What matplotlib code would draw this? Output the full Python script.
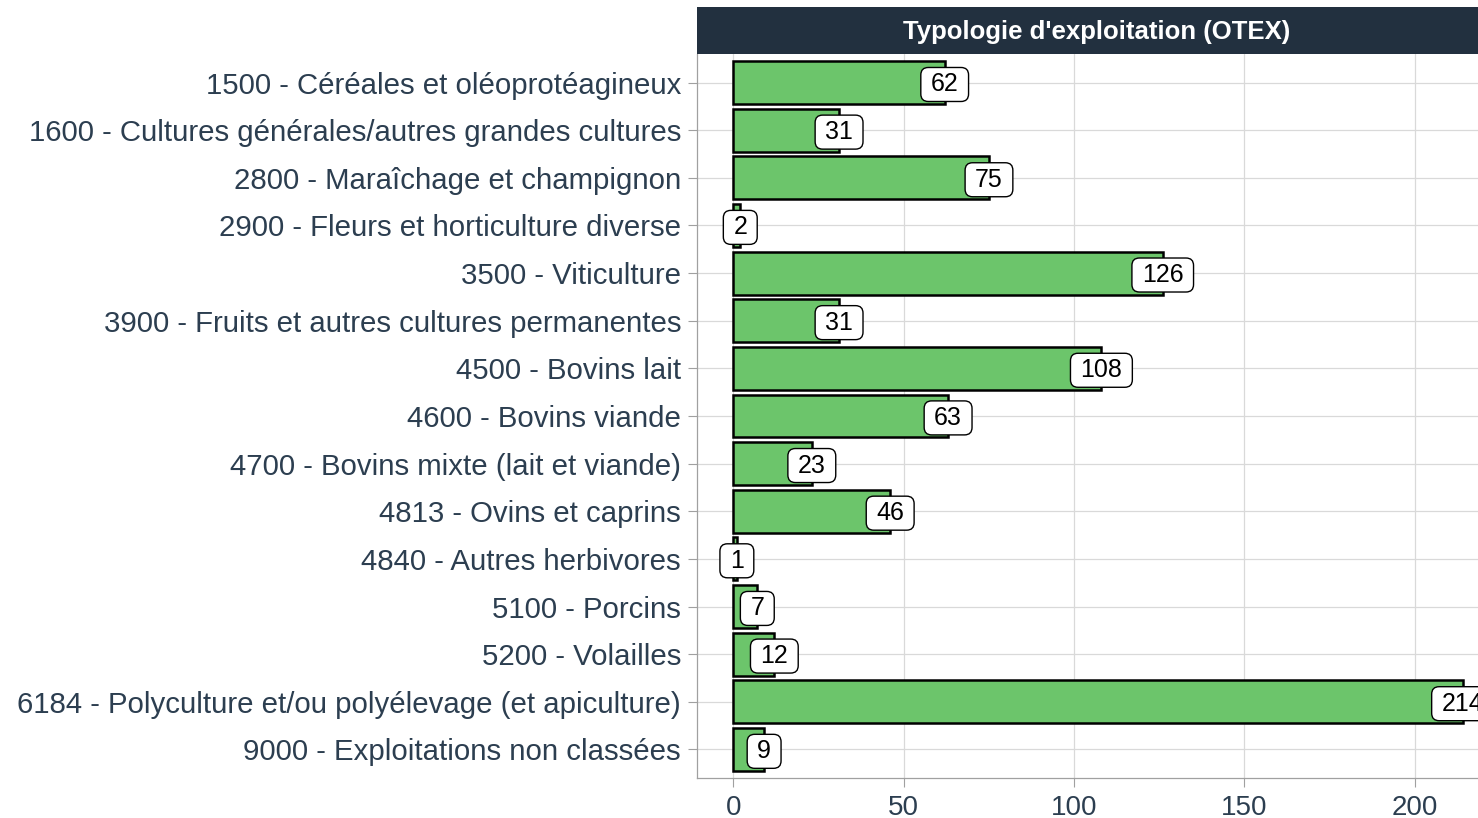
import matplotlib
matplotlib.use("Agg")
import matplotlib.pyplot as plt
from matplotlib.patches import Rectangle, BoxStyle

categories = [
    "1500 - Céréales et oléoprotéagineux",
    "1600 - Cultures générales/autres grandes cultures",
    "2800 - Maraîchage et champignon",
    "2900 - Fleurs et horticulture diverse",
    "3500 - Viticulture",
    "3900 - Fruits et autres cultures permanentes",
    "4500 - Bovins lait",
    "4600 - Bovins viande",
    "4700 - Bovins mixte (lait et viande)",
    "4813 - Ovins et caprins",
    "4840 - Autres herbivores",
    "5100 - Porcins",
    "5200 - Volailles",
    "6184 - Polyculture et/ou polyélevage (et apiculture)",
    "9000 - Exploitations non classées",
]
counts = [62, 31, 75, 2, 126, 31, 108, 63, 23, 46, 1, 7, 12, 214, 9]
x_ticks = [0, 50, 100, 150, 200]
panel_title = "Typologie d'exploitation (OTEX)"

text_col = "#2C3E50"
bar_col = "#6CC56B"
strip_col = "#22303F"
grid_col = "#D9D9D9"
axis_col = "#A0A0A0"

plt.rcParams["font.family"] = ["Liberation Sans", "DejaVu Sans"]

_round = BoxStyle.Round(pad=0, rounding_size=0.3)


def label_box(x0, y0, width, height, mutation_size):
    """Rounded label box with wider horizontal than vertical padding."""
    px = 0.4 * mutation_size
    py = 0.2 * mutation_size
    return _round(x0 - px, y0 - py, width + 2 * px, height + 2 * py,
                  mutation_size)


W, H = 1478, 818
fig = plt.figure(figsize=(W / 100, H / 100), dpi=100)

ax_l, ax_r = 697 / W, 1499 / W
ax_b, ax_t = 1 - 778 / H, 1 - 54 / H
ax = fig.add_axes([ax_l, ax_b, ax_r - ax_l, ax_t - ax_b])

n = len(categories)
ypos = [n - i for i in range(n)]
ax.barh(ypos, counts, height=0.9, color=bar_col, edgecolor="black",
        linewidth=1.8, zorder=3)
for y, v in zip(ypos, counts):
    ax.text(v, y - 0.04, str(v), ha="center", va="center", fontsize=18,
            color="black", zorder=4,
            bbox=dict(boxstyle=label_box, facecolor="white",
                      edgecolor="black", linewidth=1.0))

xmax = max(counts)
ax.set_xlim(-0.05 * xmax, 1.05 * xmax)
ax.set_ylim(0.4, n + 0.6)
ax.set_yticks(ypos)
ax.set_yticklabels(categories, fontsize=21.2, color=text_col)
ax.set_xticks(x_ticks)
ax.set_xticklabels([str(t) for t in x_ticks], fontsize=20, color=text_col)
ax.tick_params(axis="both", length=6.5, width=0.8, color=axis_col)
ax.tick_params(axis="y", pad=5)
ax.tick_params(axis="x", pad=6)
ax.grid(True, color=grid_col, linewidth=0.9, zorder=0)
ax.set_axisbelow(True)
for side in ("top", "right"):
    ax.spines[side].set_visible(False)
for side in ("left", "bottom"):
    ax.spines[side].set_color(axis_col)
    ax.spines[side].set_linewidth(0.9)

# Facet strip above the panel
st_b, st_t = 1 - 54 / H, 1 - 7 / H
fig.patches.append(Rectangle((ax_l, st_b), ax_r - ax_l, st_t - st_b,
                             transform=fig.transFigure, facecolor=strip_col,
                             edgecolor="none", zorder=5))
fig.text(1097 / W, 1 - 32 / H, panel_title, ha="center",
         va="center", color="white", fontsize=18.5, fontweight="bold", zorder=6)

fig.savefig("out.png", dpi=100)
